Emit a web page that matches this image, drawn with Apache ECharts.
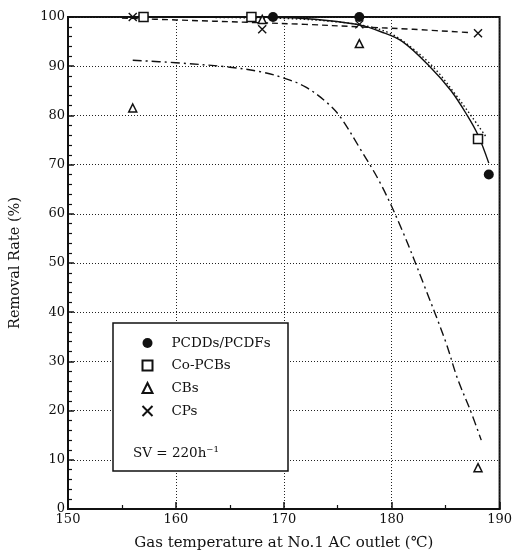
<!DOCTYPE html>
<html>
<head>
<meta charset="utf-8">
<script src="https://cdn.jsdelivr.net/npm/echarts@6/dist/echarts.min.js"></script>
<style>
  html, body { margin: 0; padding: 0; background: #fff; }
  #chart { width: 515px; height: 556px; }
</style>
</head>
<body>
<div id="chart"></div>
<script>
// measured points (gas temperature, removal rate %)
const pcdd = [[157, 100], [169, 100], [177, 100], [189, 68]]
const coPcb = [[157, 100], [167, 100], [188, 75.2]]
const cbs = [[156, 81.5], [168, 99.5], [177, 94.6], [188, 8.4]]
const cps = [[156, 100], [168, 97.5], [177, 98.5], [188, 96.7]]

// fitted curves
const pcddFit = [[156, 100], [165, 100], [170, 99.9], [174, 99.3], [177, 98.4], [179, 97], [181, 95], [183.5, 90], [185.5, 85], [187, 80], [188, 76], [189, 70.3]]
const coPcbFit = [[157, 100], [170, 99.7], [175, 99], [178, 98], [180, 96.5], [182, 93.5], [184, 89.5], [186, 84], [187.5, 79.5], [188.7, 75.8]]
const cpsFit = [[155, 99.8], [160, 99.4], [167, 98.9], [172, 98.5], [177, 98], [182, 97.5], [187.4, 96.8]]
const cbsFit = [[156, 91.2], [160, 90.7], [165, 89.8], [168, 88.8], [170, 87.6], [172, 85.8], [174, 82.6], [175.2, 79.8], [177, 73.5], [179, 66], [181, 56.5], [183, 45.5], [185, 34], [186.1, 26.5], [187.3, 20], [188.3, 14]]

const names = ['PCDDs/PCDFs', 'Co-PCBs', 'CBs', 'CPs']
const font = 'DejaVu Serif'
const ink = '#111'

const chart = echarts.init(document.getElementById('chart'))

const fitLine = (data, type) => ({
  type: 'line',
  data: data,
  smooth: 0.35,
  showSymbol: false,
  silent: true,
  z: 3,
  lineStyle: { color: ink, width: 1.4, type: type }
})

const option = {
  backgroundColor: '#fff',
  animation: false,
  grid: {
    left: 66, top: 17, right: 14, bottom: 45,
    show: true, borderColor: ink, borderWidth: 2, backgroundColor: 'transparent'
  },
  xAxis: {
    type: 'value',
    min: 150, max: 190, interval: 10,
    name: 'Gas temperature at No.1 AC outlet (\u2103)',
    nameLocation: 'middle',
    nameGap: 27,
    nameTextStyle: { fontFamily: font, fontSize: 15, color: ink },
    axisLine: { show: true, lineStyle: { color: ink, width: 2 } },
    axisTick: { show: true, inside: true, length: 7, lineStyle: { color: ink, width: 1.5 } },
    minorTick: { show: true, splitNumber: 2, length: 4, lineStyle: { color: ink, width: 1.2 } },
    axisLabel: { fontFamily: font, fontSize: 13, color: ink, margin: 4 },
    splitLine: { show: true, lineStyle: { color: '#222', width: 1, type: [1, 2] } }
  },
  yAxis: {
    type: 'value',
    min: 0, max: 100, interval: 10,
    name: 'Removal Rate (%)',
    nameLocation: 'middle',
    nameGap: 45,
    nameTextStyle: { fontFamily: font, fontSize: 14.5, color: ink },
    axisLine: { show: true, lineStyle: { color: ink, width: 2 } },
    axisTick: { show: true, inside: true, length: 6, lineStyle: { color: ink, width: 1.5 } },
    minorTick: { show: true, splitNumber: 5, length: 4, lineStyle: { color: ink, width: 1.2 } },
    axisLabel: { fontFamily: font, fontSize: 13, color: ink, margin: 3 },
    splitLine: { show: true, lineStyle: { color: '#222', width: 1, type: [1, 2] } }
  },
  legend: {
    data: names,
    orient: 'vertical',
    left: 135, top: 331,
    itemWidth: 10, itemHeight: 10, itemGap: 8.5,
    z: 12,
    selectedMode: false,
    textStyle: { fontFamily: font, fontSize: 13.5, color: ink, padding: [0, 0, 0, 14] }
  },
  graphic: [
    {
      type: 'rect', z: 11,
      shape: { x: 113, y: 323, width: 175, height: 148 },
      style: { fill: '#fff', stroke: ink, lineWidth: 1.5 }
    },
    {
      type: 'text', z: 12, left: 133, top: 446,
      style: { text: 'SV = 220h\u207b\u00b9', font: '13.5px "DejaVu Serif"', fill: ink }
    }
  ],
  series: [
    fitLine(pcddFit, 'solid'),
    fitLine(coPcbFit, [1.5, 2.5]),
    fitLine(cpsFit, [6, 4]),
    fitLine(cbsFit, [9, 4, 2, 4]),
    {
      name: names[0], type: 'scatter', data: pcdd, symbol: 'circle', symbolSize: 10, z: 5,
      itemStyle: { color: ink, borderColor: ink, borderWidth: 0, opacity: 1 }
    },
    {
      name: names[1], type: 'scatter', data: coPcb, symbol: 'rect', symbolSize: 9, z: 5,
      itemStyle: { color: '#fff', borderColor: ink, borderWidth: 1.5, opacity: 1 }
    },
    {
      name: names[2], type: 'scatter', data: cbs, symbol: 'triangle', symbolSize: 8, z: 5,
      itemStyle: { color: '#fff', borderColor: ink, borderWidth: 1.5, opacity: 1 }
    },
    {
      name: names[3], type: 'scatter', data: cps, symbol: 'path://M0,0L10,10M10,0L0,10', symbolSize: 8, z: 5,
      itemStyle: { color: 'none', borderColor: ink, borderWidth: 1.4, opacity: 1 }
    }
  ]
}

chart.setOption(option)
</script>
</body>
</html>
